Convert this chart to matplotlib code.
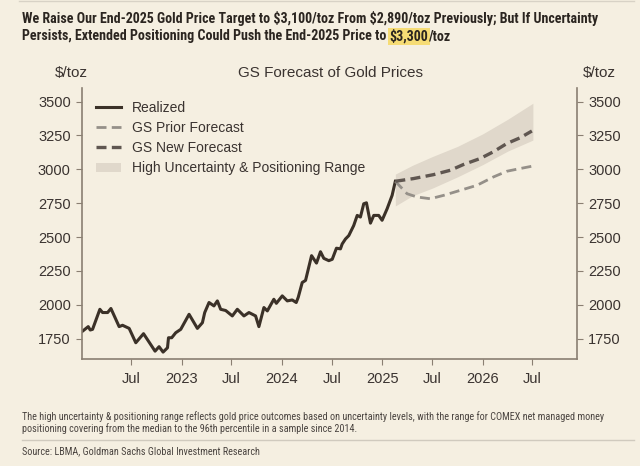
import numpy as np
import pandas as pd
import matplotlib
matplotlib.use("Agg")
import matplotlib.pyplot as plt
import matplotlib.dates as mdates
from matplotlib.ticker import FuncFormatter

# -------------------------
# DATA (decimal years)
# -------------------------
realized_t = [2022.012, 2022.068, 2022.088, 2022.111, 2022.184, 2022.211, 2022.261, 2022.294,
              2022.376, 2022.410, 2022.476, 2022.542, 2022.619, 2022.685, 2022.734, 2022.774,
              2022.814, 2022.858, 2022.868, 2022.900, 2022.940, 2022.990, 2023.073, 2023.156,
              2023.206, 2023.229, 2023.272, 2023.321, 2023.355, 2023.388, 2023.438, 2023.504,
              2023.554, 2023.620, 2023.670, 2023.736, 2023.769, 2023.819, 2023.853, 2023.918,
              2023.943, 2024.002, 2024.052, 2024.101, 2024.141, 2024.161, 2024.201, 2024.234,
              2024.294, 2024.343, 2024.383, 2024.416, 2024.466, 2024.500, 2024.542, 2024.582,
              2024.599, 2024.632, 2024.665, 2024.714, 2024.749, 2024.781, 2024.814, 2024.841,
              2024.881, 2024.914, 2024.963, 2024.997, 2025.047, 2025.097, 2025.129]
realized = [1806, 1839, 1814, 1819, 1967, 1943, 1943, 1973,
            1839, 1849, 1826, 1720, 1787, 1713, 1658, 1691,
            1651, 1683, 1757, 1757, 1794, 1819, 1930, 1826,
            1868, 1943, 2017, 1992, 2029, 1967, 1958, 1918,
            1967, 1918, 1943, 1918, 1839, 1980, 1955, 2041,
            2011, 2066, 2029, 2036, 2017, 2055, 2165, 2180,
            2363, 2308, 2392, 2343, 2326, 2336, 2418, 2413,
            2449, 2486, 2511, 2585, 2660, 2648, 2746, 2753,
            2603, 2660, 2660, 2624, 2709, 2808, 2912]

new_t = [2025.129, 2025.311, 2025.510, 2025.676, 2025.809, 2025.975, 2026.107, 2026.241, 2026.373, 2026.490]
new_fc = [2912, 2932, 2961, 2993, 3036, 3080, 3130, 3191, 3233, 3283]

prior_t = [2025.129, 2025.246, 2025.345, 2025.478, 2025.610, 2025.776, 2025.942, 2026.107, 2026.241, 2026.373, 2026.490]
prior_fc = [2912, 2820, 2796, 2783, 2808, 2845, 2882, 2944, 2986, 3006, 3023]

band_t = [2025.129, 2025.300, 2025.500, 2025.750, 2026.000, 2026.250, 2026.500]
band_hi = [2965, 3030, 3095, 3170, 3262, 3370, 3488]
band_lo = [2730, 2805, 2862, 2945, 3035, 3135, 3216]

y_ticks = [1750, 2000, 2250, 2500, 2750, 3000, 3250, 3500]

headline = ["We Raise Our End-2025 Gold Price Target to $3,100/toz From $2,890/toz Previously; But If Uncertainty",
            "Persists, Extended Positioning Could Push the End-2025 Price to ", "$3,300", "/toz"]
footnote = ["The high uncertainty & positioning range reflects gold price outcomes based on uncertainty levels, with the range for COMEX net managed money",
            "positioning covering from the median to the 96th percentile in a sample since 2014."]
source = "Source: LBMA, Goldman Sachs Global Investment Research"


def to_dates(ts):
    ts = np.asarray(ts)
    return pd.to_datetime("2022-01-01") + pd.to_timedelta((ts - 2022) * 365.25, unit="D")


BG = "#f5efe1"
TXT = "#3a3330"
SPINE = "#8a7f72"
narrow = ["Liberation Sans Narrow", "Roboto Condensed", "DejaVu Sans"]
sans = ["Liberation Sans", "DejaVu Sans"]

plt.rcParams["font.family"] = sans
plt.rcParams["text.parse_math"] = False

fig = plt.figure(figsize=(6.4, 4.66), dpi=100, facecolor=BG)
ax = fig.add_axes([0.128, 0.2296, 0.7736, 0.5814], facecolor=BG)

ax.fill_between(to_dates(band_t), band_lo, band_hi, color="#e0d8cb", lw=0,
                label="High Uncertainty & Positioning Range")
ax.plot(to_dates(realized_t), realized, color="#3b3128", lw=2.2, label="Realized")
ax.plot(to_dates(prior_t), prior_fc, color="#959089", lw=2.0, dashes=(3.6, 1.9), label="GS Prior Forecast")
ax.plot(to_dates(new_t), new_fc, color="#5f5650", lw=2.4, dashes=(3, 1.6), label="GS New Forecast")

ax.set_xlim(to_dates([2022.005])[0], to_dates([2026.94])[0])
ax.set_ylim(1600, 3600)
ax.set_yticks(y_ticks)

ax.xaxis.set_major_locator(mdates.MonthLocator(bymonth=[1, 7]))
ax.xaxis.set_major_formatter(FuncFormatter(
    lambda v, p: "Jul" if mdates.num2date(v).month == 7 else str(mdates.num2date(v).year)))

for s in ["left", "right", "bottom"]:
    ax.spines[s].set_color(SPINE)
    ax.spines[s].set_linewidth(1.2)
ax.spines["top"].set_visible(False)
ax.tick_params(axis="y", left=True, right=True, labelleft=True, labelright=True,
               direction="out", length=4, color=SPINE, labelsize=10.5, labelcolor=TXT, pad=4)
ax.tick_params(axis="x", direction="out", length=4, color=SPINE, labelsize=10.5, labelcolor=TXT, pad=5)

h, l = ax.get_legend_handles_labels()
order = [1, 2, 3, 0]
ax.legend([h[i] for i in order], [l[i] for i in order], loc="upper left", frameon=False,
          fontsize=10, labelcolor=TXT, handlelength=1.8, handletextpad=0.8,
          labelspacing=0.45, bbox_to_anchor=(0.003, 1.0))

fig.text(0.516, 0.843, "GS Forecast of Gold Prices", ha="center", va="center", fontsize=11, color=TXT)
fig.text(0.112, 0.843, "$/toz", ha="center", va="center", fontsize=11, color=TXT)
fig.text(0.937, 0.843, "$/toz", ha="center", va="center", fontsize=11, color=TXT)

fig.canvas.draw()
r = fig.canvas.get_renderer()
W = fig.bbox.width


def fit_size(text, target_px, size, **kw):
    # shrink/grow font so the line spans about the same width as in the reference
    t = fig.text(0, 0, text, fontsize=size, **kw)
    w = t.get_window_extent(r).width
    t.remove()
    return size * target_px / w


hl_kw = dict(family=narrow, weight="bold", color="#2b2520", va="center")
hs = fit_size(headline[0], 578, 9.5, **hl_kw)
fig.text(0.034, 0.960, headline[0], fontsize=hs, **hl_kw)
t1 = fig.text(0.034, 0.922, headline[1], fontsize=hs, **hl_kw)
bb = t1.get_window_extent(r)
t2 = fig.text(bb.x1 / W, 0.922, headline[2], fontsize=hs,
              bbox=dict(boxstyle="square,pad=0.1", fc="#f6dc75", ec="none"), **hl_kw)
bb2 = t2.get_window_extent(r)
fig.text(bb2.x1 / W, 0.922, headline[3], fontsize=hs, **hl_kw)

fig.add_artist(plt.Line2D([0.03, 0.99], [0.997, 0.997], color="#d8d2c6", lw=1))

fn_kw = dict(family=narrow, color="#4a4440", va="center")
fs = fit_size(footnote[0], 586, 7, **fn_kw)
fig.text(0.034, 0.093, "\n".join(footnote), fontsize=fs, linespacing=1.15, **fn_kw)
fig.add_artist(plt.Line2D([0.034, 0.99], [0.056, 0.056], color="#d0cabe", lw=1))
fig.text(0.034, 0.032, source, fontsize=fs, **fn_kw)

fig.savefig("out.png", dpi=100, facecolor=BG)
